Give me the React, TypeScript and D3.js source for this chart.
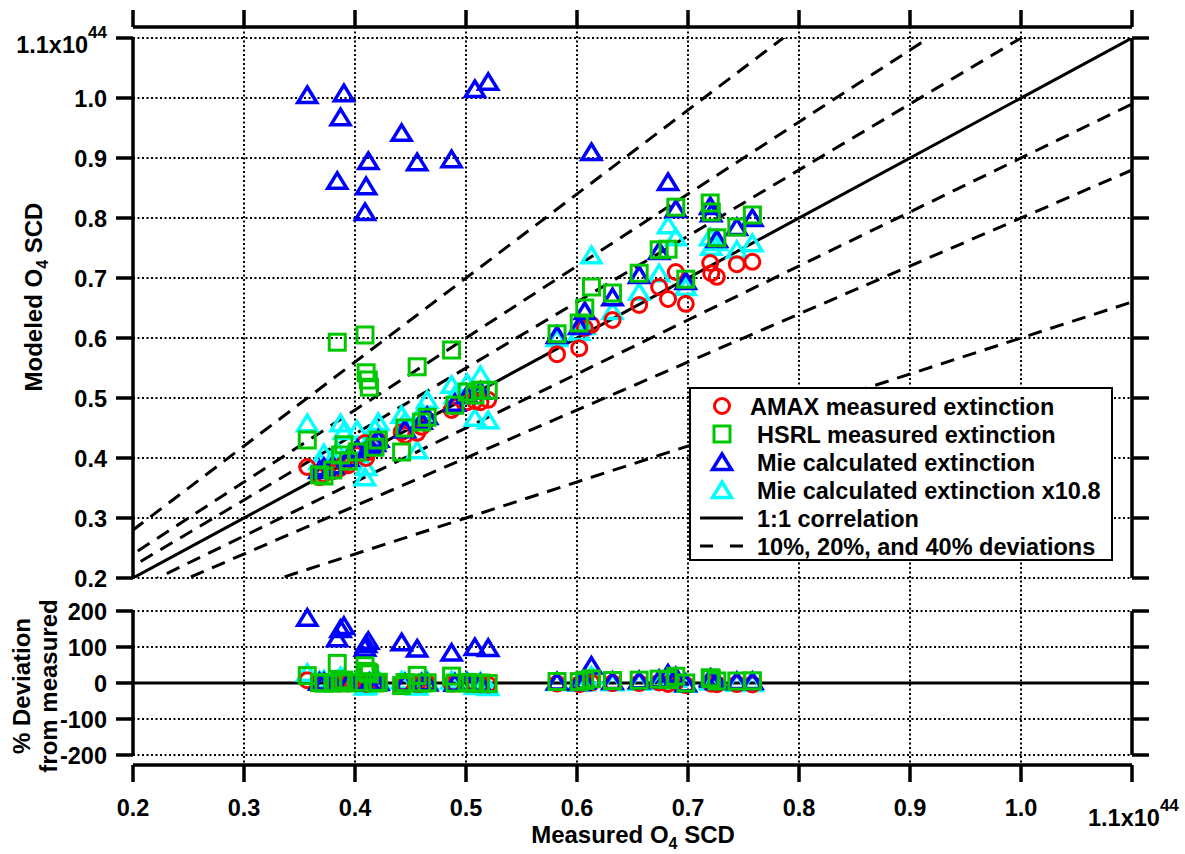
import React from 'react';
import * as d3 from 'd3';

// measured O4 SCD (x1e44), one entry per observation
const measured = [
  0.357, 0.368, 0.372, 0.380, 0.384, 0.387, 0.390, 0.394, 0.402, 0.409, 0.410, 0.412, 0.413,
  0.418, 0.421, 0.442, 0.445, 0.456, 0.460, 0.465, 0.487, 0.490, 0.501, 0.508, 0.513, 0.520,
  0.582, 0.602, 0.607, 0.613, 0.632, 0.656, 0.674, 0.682, 0.689, 0.698, 0.720, 0.721, 0.726,
  0.744, 0.758,
];
// modeled O4 SCD for each extinction source
const amax = [
  0.385, 0.368, 0.373, 0.378, 0.380, 0.384, 0.390, 0.388, 0.405, 0.425, 0.400, 0.410, 0.415,
  0.418, 0.428, 0.443, 0.438, 0.442, 0.452, 0.463, 0.480, 0.485, 0.493, 0.495, 0.493, 0.497,
  0.573, 0.583, 0.617, 0.622, 0.630, 0.655, 0.685, 0.665, 0.710, 0.657, 0.725, 0.708, 0.702,
  0.723, 0.727,
];
const hsrl = [
  0.430, 0.372, 0.370, 0.380, 0.593, 0.405, 0.422, 0.395, 0.410, 0.605, 0.542, 0.530, 0.518,
  0.418, 0.430, 0.410, 0.450, 0.552, 0.460, 0.468, 0.580, 0.488, 0.510, 0.505, 0.513, 0.513,
  0.607, 0.625, 0.650, 0.685, 0.675, 0.708, 0.747, 0.748, 0.818, 0.698, 0.825, 0.810, 0.767,
  0.785, 0.805,
];
const mie = [
  1.005, 0.380, 0.385, 0.388, 0.862, 0.968, 1.008, 0.400, 0.415, 0.810, 0.853, 0.895, 0.420,
  0.425, 0.432, 0.942, 0.448, 0.893, 0.462, 0.470, 0.898, 0.492, 0.505, 1.015, 0.512, 1.027,
  0.605, 0.620, 0.645, 0.910, 0.668, 0.705, 0.745, 0.860, 0.815, 0.695, 0.820, 0.808, 0.765,
  0.785, 0.800,
];
const mieScaled = [
  0.458, 0.395, 0.408, 0.400, 0.412, 0.458, 0.445, 0.405, 0.447, 0.368, 0.385, 0.420, 0.430,
  0.450, 0.460, 0.472, 0.462, 0.413, 0.477, 0.497, 0.522, 0.505, 0.525, 0.467, 0.538, 0.463,
  0.600, 0.610, 0.620, 0.738, 0.645, 0.677, 0.708, 0.788, 0.768, 0.685, 0.768, 0.752, 0.760,
  0.747, 0.758,
];

const xTicks = [0.2, 0.3, 0.4, 0.5, 0.6, 0.7, 0.8, 0.9, 1.0, 1.1];
const yTicks = [0.2, 0.3, 0.4, 0.5, 0.6, 0.7, 0.8, 0.9, 1.0, 1.1];
const devTicks = [-200, -100, 0, 100, 200];
const ratioLines = [1.1, 1.2, 1.4, 0.9, 0.8, 0.6];

const series = [
  { key: 'mieScaled', values: mieScaled, color: '#00ffff', shape: 'triangle', label: 'Mie calculated extinction x10.8' },
  { key: 'amax', values: amax, color: '#ff0000', shape: 'circle', label: 'AMAX measured extinction' },
  { key: 'mie', values: mie, color: '#0000ff', shape: 'triangle', label: 'Mie calculated extinction' },
  { key: 'hsrl', values: hsrl, color: '#00c800', shape: 'square', label: 'HSRL measured extinction' },
];
const legendOrder = ['amax', 'hsrl', 'mie', 'mieScaled'];

const FONT = '"Liberation Sans", Arial, Helvetica, sans-serif';

const Marker = ({ shape, cx, cy, color }) => {
  if (shape === 'circle') {
    return <circle cx={cx} cy={cy} r={7.5} fill="none" stroke={color} strokeWidth={3} />;
  }
  if (shape === 'square') {
    return <rect x={cx - 8} y={cy - 8} width={16} height={16} fill="none" stroke={color} strokeWidth={3} />;
  }
  const p = `M${cx},${cy - 8}L${cx + 9.5},${cy + 7.5}L${cx - 9.5},${cy + 7.5}Z`;
  return <path d={p} fill="none" stroke={color} strokeWidth={3.5} strokeLinejoin="miter" />;
};

const App = () => {
  const W = 1185;
  const H = 854;
  const left = 133;
  const right = 1132;

  const x = d3.scaleLinear().domain([0.2, 1.1]).range([left, right]);
  const y = d3.scaleLinear().domain([0.2, 1.1]).range([578, 38]);
  const yDev = d3.scaleLinear().domain([-200, 200]).range([755, 611]);

  const topAxisY = 27;
  const bottomAxisY = 765;
  const tick = 17;
  const axisW = 3.5;

  const line = d3.line().x((d) => x(d[0])).y((d) => y(d[1]));

  const dotted = { stroke: '#000', strokeWidth: 2, strokeDasharray: '2,2.5' };
  const fmt = d3.format('.1f');

  return (
    <svg
      width={W}
      height={H}
      style={{ position: 'absolute', left: 0, top: 0, background: '#fff' }}
      fontFamily={FONT}
      fontWeight="bold"
    >
      <defs>
        <clipPath id="topClip">
          <rect x={left} y={y(1.1)} width={right - left} height={y(0.2) - y(1.1)} />
        </clipPath>
      </defs>

      {/* grid */}
      {xTicks.slice(1, -1).map((t) => (
        <line key={'gx' + t} x1={x(t)} x2={x(t)} y1={topAxisY} y2={bottomAxisY} {...dotted} />
      ))}
      {yTicks.map((t) => (
        <line key={'gy' + t} x1={left} x2={right} y1={y(t)} y2={y(t)} {...dotted} />
      ))}
      {devTicks.filter((t) => t !== 0).map((t) => (
        <line key={'gd' + t} x1={left} x2={right} y1={yDev(t)} y2={yDev(t)} {...dotted} />
      ))}

      {/* reference lines */}
      <g clipPath="url(#topClip)">
        <path d={line([[0.2, 0.2], [1.1, 1.1]])} fill="none" stroke="#000" strokeWidth={3} />
        {ratioLines.map((r) => (
          <path
            key={'r' + r}
            d={line([[0.1, 0.1 * r], [1.2, 1.2 * r]])}
            fill="none"
            stroke="#000"
            strokeWidth={3}
            strokeDasharray="14,9"
          />
        ))}
      </g>
      <line x1={left} x2={right} y1={yDev(0)} y2={yDev(0)} stroke="#000" strokeWidth={3} />

      {/* markers */}
      {series.map((s) => (
        <g key={s.key}>
          {s.values.map((v, i) => (
            <Marker key={'t' + i} shape={s.shape} cx={x(measured[i])} cy={y(v)} color={s.color} />
          ))}
          {s.values.map((v, i) => (
            <Marker
              key={'d' + i}
              shape={s.shape}
              cx={x(measured[i])}
              cy={yDev(((v - measured[i]) / measured[i]) * 100)}
              color={s.color}
            />
          ))}
        </g>
      ))}

      {/* axes */}
      <g stroke="#000" strokeWidth={axisW}>
        <line x1={left} x2={right} y1={topAxisY} y2={topAxisY} />
        {xTicks.map((t) => (
          <line key={'tt' + t} x1={x(t)} x2={x(t)} y1={topAxisY} y2={topAxisY - tick} />
        ))}
        <line x1={left} x2={right} y1={bottomAxisY} y2={bottomAxisY} />
        {xTicks.map((t) => (
          <line key={'bt' + t} x1={x(t)} x2={x(t)} y1={bottomAxisY} y2={bottomAxisY + tick} />
        ))}
        <line x1={left} x2={left} y1={y(1.1)} y2={y(0.2)} />
        <line x1={right} x2={right} y1={y(1.1)} y2={y(0.2)} />
        {yTicks.map((t) => (
          <g key={'yt' + t}>
            <line x1={left - tick} x2={left} y1={y(t)} y2={y(t)} />
            <line x1={right} x2={right + tick} y1={y(t)} y2={y(t)} />
          </g>
        ))}
        <line x1={left} x2={left} y1={yDev(200)} y2={yDev(-200)} />
        <line x1={right} x2={right} y1={yDev(200)} y2={yDev(-200)} />
        {devTicks.map((t) => (
          <g key={'dt' + t}>
            <line x1={left - tick} x2={left} y1={yDev(t)} y2={yDev(t)} />
            <line x1={right} x2={right + tick} y1={yDev(t)} y2={yDev(t)} />
          </g>
        ))}
      </g>

      {/* tick labels */}
      <g fontSize={23.5} fill="#000">
        {yTicks.slice(0, -1).map((t) => (
          <text key={'yl' + t} x={107} y={y(t) + 8.5} textAnchor="end">
            {fmt(t)}
          </text>
        ))}
        <text x={107} y={53} textAnchor="end">
          1.1x10<tspan fontSize={17} dy={-15}>44</tspan>
        </text>
        {devTicks.map((t) => (
          <text key={'dl' + t} x={107} y={yDev(t) + 8.5} textAnchor="end">
            {t}
          </text>
        ))}
        {xTicks.slice(0, -1).map((t) => (
          <text key={'xl' + t} x={x(t)} y={816} textAnchor="middle">
            {fmt(t)}
          </text>
        ))}
        <text x={1088} y={826} textAnchor="start">
          1.1x10<tspan fontSize={17} dy={-15}>44</tspan>
        </text>
      </g>

      {/* axis titles */}
      <g fontSize={24} fill="#000">
        <text x={633} y={843} textAnchor="middle">
          Measured O<tspan fontSize={16} dy={6}>4</tspan>
          <tspan dy={-6}> SCD</tspan>
        </text>
        <text transform="translate(42,297) rotate(-90)" textAnchor="middle">
          Modeled O<tspan fontSize={16} dy={6}>4</tspan>
          <tspan dy={-6}> SCD</tspan>
        </text>
        <text transform="translate(30,686) rotate(-90)" textAnchor="middle">
          % Deviation
        </text>
        <text transform="translate(57,686) rotate(-90)" textAnchor="middle">
          from measured
        </text>
      </g>

      {/* legend */}
      <g>
        <rect x={690} y={388} width={422} height={172} fill="#fff" stroke="#000" strokeWidth={2} />
        {legendOrder.map((k, i) => {
          const s = series.find((d) => d.key === k);
          const cy = 406 + i * 28;
          return (
            <g key={'lg' + k}>
              <Marker shape={s.shape} cx={722} cy={cy} color={s.color} />
              <text x={i === 0 ? 750 : 757} y={cy + 8.5} fontSize={23.5} fill="#000">
                {s.label}
              </text>
            </g>
          );
        })}
        <line x1={700} x2={743} y1={518} y2={518} stroke="#000" strokeWidth={3} />
        <text x={757} y={526.5} fontSize={23.5} fill="#000">1:1 correlation</text>
        <line x1={700} x2={743} y1={546} y2={546} stroke="#000" strokeWidth={3} strokeDasharray="13,17" />
        <text x={757} y={554.5} fontSize={23.5} fill="#000">10%, 20%, and 40% deviations</text>
      </g>
    </svg>
  );
};

export default App;
